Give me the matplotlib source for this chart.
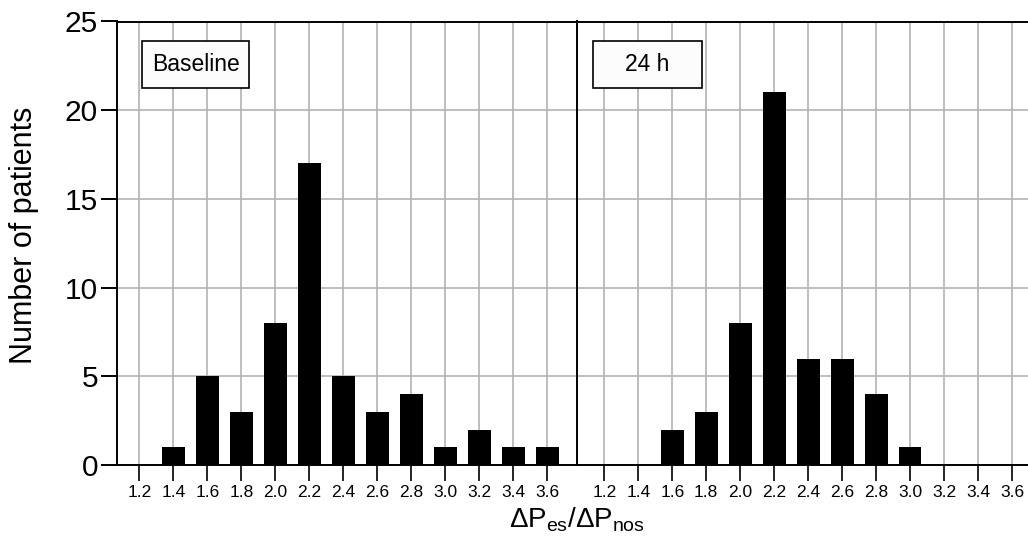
import matplotlib
matplotlib.use("Agg")
import matplotlib.pyplot as plt
from matplotlib.patches import Rectangle

plt.rcParams['font.family'] = ['Liberation Sans', 'DejaVu Sans']
plt.rcParams['mathtext.fontset'] = 'custom'
plt.rcParams['mathtext.rm'] = 'Liberation Sans'
plt.rcParams['mathtext.it'] = 'Liberation Sans'

# Data
bins = [1.2, 1.4, 1.6, 1.8, 2.0, 2.2, 2.4, 2.6, 2.8, 3.0, 3.2, 3.4, 3.6]
tick_labels = ["1.2", "1.4", "1.6", "1.8", "2.0", "2.2", "2.4", "2.6", "2.8", "3.0", "3.2", "3.4", "3.6"]
baseline_counts = [0, 1, 5, 3, 8, 17, 5, 3, 4, 1, 2, 1, 1]
h24_counts = [0, 0, 2, 3, 8, 21, 6, 6, 4, 1, 0, 0, 0]
panel_titles = ["Baseline", "24 h"]
y_ticks = [0, 5, 10, 15, 20, 25]

W, H = 1028, 551
fig = plt.figure(figsize=(W / 100, H / 100), dpi=100)

ax_bottom_px = 465.0
ax_top_px = 21.5
ax_h = (ax_bottom_px - ax_top_px) / H
ax_y0 = (H - ax_bottom_px) / H

left_x0, div_x, right_x1 = 116.7, 577.3, 1028.0
ax1 = fig.add_axes([left_x0 / W, ax_y0, (div_x - left_x0) / W, ax_h])
ax2 = fig.add_axes([div_x / W, ax_y0, (right_x1 - div_x) / W, ax_h], sharey=ax1)

grid_color = '#b3b3b3'
bar_w = 0.134

xlims = [(1.067, 3.776), (1.041, 3.694)]
box_specs = [(0.0543, 0.2336), (0.0342, 0.243)]

for ax, counts, title, xl, (bx, bw) in zip([ax1, ax2], [baseline_counts, h24_counts],
                                          panel_titles, xlims, box_specs):
    ax.set_axisbelow(True)
    ax.bar(bins, counts, width=bar_w, color='black', zorder=3)
    ax.set_xlim(*xl)
    ax.set_ylim(0, 25)
    ax.set_xticks(bins)
    ax.set_xticklabels(tick_labels, fontsize=12.5)
    ax.set_yticks(y_ticks)
    ax.grid(True, color=grid_color, linewidth=1.2)
    ax.tick_params(axis='x', direction='out', length=11.5, width=1.2, pad=3, colors='black')
    for s in ['top', 'bottom', 'left', 'right']:
        ax.spines[s].set_linewidth(1.4)
        ax.spines[s].set_color('black')
    rect = Rectangle((bx, 0.849), bw, 0.1067, transform=ax.transAxes,
                     facecolor='#fcfcfc', edgecolor='black', linewidth=1.2, zorder=5)
    ax.add_patch(rect)
    ax.text(bx + bw / 2, 0.849 + 0.1067 / 2, title, transform=ax.transAxes,
            ha='center', va='center', fontsize=16.5, zorder=6)

ax1.tick_params(axis='y', direction='out', length=11.5, width=1.4, pad=2, labelsize=21.5)
ax2.tick_params(axis='y', left=False, labelleft=False)
ax2.spines['right'].set_visible(False)
ax1.spines['right'].set_visible(False)
ax2.spines['left'].set_zorder(4)

fig.text(24 / W, (H - 235.5) / H, "Number of patients", rotation=90,
         ha='center', va='center', fontsize=22)
fig.text(577 / W, 24 / H, r'$\Delta P_{\mathrm{es}}/\Delta P_{\mathrm{nos}}$',
         ha='center', va='baseline', fontsize=20)

fig.savefig("out.png", dpi=100)
